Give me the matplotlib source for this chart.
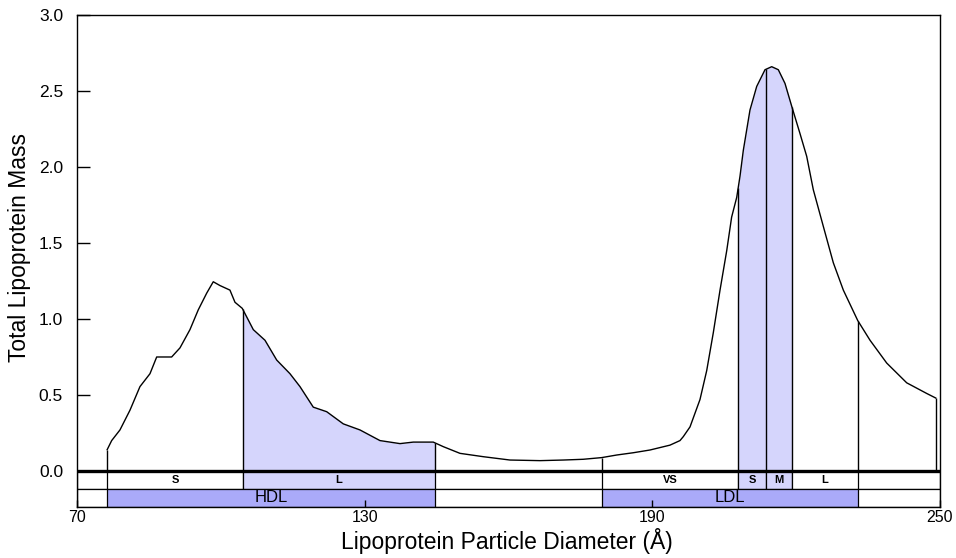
"""Lipoprotein particle size distribution with HDL / LDL subclass bands."""

import numpy as np
import matplotlib

matplotlib.use("Agg")
import matplotlib.pyplot as plt
from matplotlib.patches import Rectangle

plt.rcParams["font.family"] = ["Liberation Sans", "DejaVu Sans"]

# curve: diameter (Å) vs total mass
diameter = [76.3, 77.24, 78.97, 81.06, 83.14, 85.23, 86.63, 89.75, 91.49, 93.57,
            95.30, 97.06, 98.43, 99.83, 101.91, 102.96, 104.48, 106.78, 109.22, 111.66,
            114.43, 116.52, 119.29, 122.09, 125.55, 129.03, 133.20, 137.38, 140.15, 144.32,
            146.41, 149.89, 154.75, 160.32, 166.58, 171.44, 175.61, 179.45, 182.58, 186.04,
            189.52, 193.69, 195.78, 196.47, 197.87, 199.95, 201.35, 202.73, 204.13, 205.53,
            206.55, 207.61, 208.30, 208.99, 210.38, 211.78, 213.51, 214.91, 216.29, 217.68,
            219.08, 220.81, 222.21, 223.59, 225.67, 227.76, 229.85, 232.85, 235.42, 238.90,
            243.07, 247.24, 249.12]
mass = [0.14, 0.20, 0.27, 0.40, 0.555, 0.64, 0.75, 0.75, 0.81, 0.93,
        1.06, 1.17, 1.245, 1.22, 1.19, 1.11, 1.07, 0.93, 0.86, 0.73,
        0.64, 0.555, 0.42, 0.39, 0.31, 0.27, 0.20, 0.18, 0.19, 0.19,
        0.16, 0.116, 0.094, 0.072, 0.068, 0.072, 0.077, 0.088, 0.105, 0.12,
        0.138, 0.17, 0.20, 0.226, 0.29, 0.47, 0.66, 0.91, 1.19, 1.45,
        1.67, 1.80, 1.94, 2.11, 2.375, 2.53, 2.64, 2.66, 2.64, 2.55,
        2.40, 2.22, 2.07, 1.85, 1.61, 1.37, 1.19, 0.99, 0.86, 0.71,
        0.58, 0.51, 0.48]

# subclass cells (row 1): start, end, label, shaded
sub_start = [76.3, 104.6, 179.5, 207.9, 213.7, 219.2]
sub_end = [104.6, 144.7, 207.9, 213.7, 219.2, 232.9]
sub_label = ["S", "L", "VS", "S", "M", "L"]
sub_shaded = [False, True, False, True, True, False]

# class cells (row 2)
cls_start = [76.3, 179.5]
cls_end = [144.7, 232.9]
cls_label = ["HDL", "LDL"]

# vertical dividers drawn up to the curve
dividers = [76.3, 104.6, 144.7, 179.5, 207.9, 213.7, 219.1, 232.9, 249.12]

LIGHT = "#d5d5fc"
DARK = "#aaaaf9"
ROW = 0.118
YMIN = -0.237


def main():
    x = np.array(diameter)
    y = np.array(mass)

    fig = plt.figure(figsize=(9.56, 5.58), dpi=100)
    ax = fig.add_axes([0.0805, 0.0914, 0.9027, 0.8817])

    # shaded sub-populations under the curve
    for s, e, shaded in zip(sub_start, sub_end, sub_shaded):
        if not shaded:
            continue
        xs = np.concatenate([[s], x[(x > s) & (x < e)], [e]])
        ax.fill_between(xs, 0, np.interp(xs, x, y), color=LIGHT, lw=0)

    ax.plot(x, y, color="black", lw=1.0)
    ax.vlines(dividers, 0, np.interp(dividers, x, y), color="black", lw=1.0)

    # band rows below zero
    row2_h = -ROW - YMIN
    ax.add_patch(Rectangle((70, -ROW), 180, ROW, fc="white", ec="black", lw=0.9))
    ax.add_patch(Rectangle((70, YMIN), 180, row2_h, fc="white", ec="black", lw=0.9))
    for s, e, lab, shaded in zip(sub_start, sub_end, sub_label, sub_shaded):
        ax.add_patch(Rectangle((s, -ROW), e - s, ROW, fc=LIGHT if shaded else "white",
                               ec="black", lw=0.9))
        ax.text((s + e) / 2, -ROW / 2, lab, ha="center", va="center", fontsize=8,
                fontweight="bold")
    for s, e, lab in zip(cls_start, cls_end, cls_label):
        ax.add_patch(Rectangle((s, YMIN), e - s, row2_h, fc=DARK, ec="black", lw=0.9))
        ax.text((s + e) / 2, (YMIN - ROW) / 2, lab, ha="center", va="center", fontsize=12)

    ax.axhline(0, color="black", lw=2.4)

    ax.set_xlim(70, 250)
    ax.set_ylim(YMIN, 3.0)
    ax.set_xticks([70, 130, 190, 250])
    ax.set_yticks([0.0, 0.5, 1.0, 1.5, 2.0, 2.5, 3.0])
    ax.set_yticklabels(["0.0", "0.5", "1.0", "1.5", "2.0", "2.5", "3.0"])
    ax.tick_params(axis="x", direction="in", length=5, width=1, pad=2.5, labelsize=11.5)
    ax.tick_params(axis="y", direction="in", length=9, width=1, pad=10, labelsize=12.5)
    ax.set_axisbelow(False)
    for sp in ax.spines.values():
        sp.set_linewidth(1.0)

    ax.set_xlabel("Lipoprotein Particle Diameter (Å)", fontsize=16.5)
    ax.set_ylabel("Total Lipoprotein Mass", fontsize=16.5)
    ax.xaxis.set_label_coords(0.4977, -0.043)
    ax.yaxis.set_label_coords(-0.053, 0.528)

    fig.savefig("out.png", dpi=100)


if __name__ == "__main__":
    main()
